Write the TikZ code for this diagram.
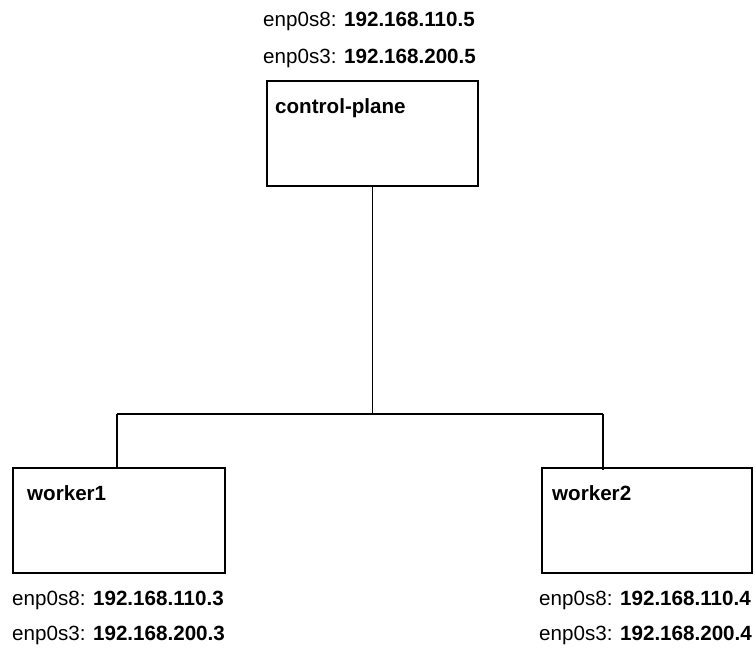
\documentclass[tikz,border=0pt]{standalone}
\usepackage{fontspec}
\setmainfont{Liberation Sans}
\usetikzlibrary{calc}
\begin{document}
\begin{tikzpicture}[x=1pt,y=-1pt,
  host/.style={draw=black,line width=1.8pt,rectangle,inner sep=0pt},
  link/.style={draw=black,line width=1.8pt},
  txt/.style={anchor=base west,inner sep=0pt,font=\fontsize{20.6}{24}\selectfont},
  title/.style={txt,font=\fontsize{20.6}{24}\selectfont\bfseries}]
\useasboundingbox (0,0) rectangle (755,649);

% hosts
\node[host,minimum width=211pt,minimum height=105pt] (cp) at (372.5,133.5) {};
\node[host,minimum width=212pt,minimum height=105pt] (w1) at (119,520.5) {};
\node[host,minimum width=210pt,minimum height=105pt] (w2) at (647,520.5) {};

% host names
\node[title] (cpname) at (275,113) {control-plane};
\node[title] (w1name) at (27,500) {worker1};
\node[title] (w2name) at (552,500) {worker2};

% addresses
\node[txt] (cpa) at (263,26) {enp0s8: \textbf{192.168.110.5}};
\node[txt] (cpb) at (263,63) {enp0s3: \textbf{192.168.200.5}};
\node[txt] (w1a) at (12,605) {enp0s8: \textbf{192.168.110.3}};
\node[txt] (w1b) at (12,640) {enp0s3: \textbf{192.168.200.3}};
\node[txt] (w2a) at (539,605) {enp0s8: \textbf{192.168.110.4}};
\node[txt] (w2b) at (539,640) {enp0s3: \textbf{192.168.200.4}};

% network bus
\coordinate (jl) at (117,414);
\coordinate (jr) at (603,414);
\coordinate (w2in) at (603,470);
\draw[link] (cp.south) -- (cp.south |- jl);
\draw[link] (jl) -- (jr);
\draw[link] (jl) -- (jl |- w1.north);
\draw[link] (jr) -- (w2in);
\end{tikzpicture}
\end{document}
